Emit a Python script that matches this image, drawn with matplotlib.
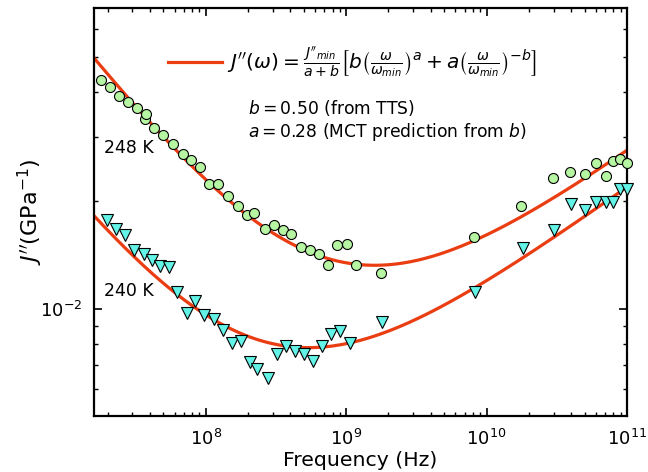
import numpy as np
import matplotlib
matplotlib.use("Agg")
import matplotlib.pyplot as plt

# 248 K data (log10 of frequency in Hz, log10 of J'' in GPa^-1)
logf_248 = [7.253, 7.317, 7.383, 7.448, 7.514, 7.567, 7.578, 7.633, 7.699, 7.768,
            7.835, 7.895, 7.961, 8.025, 8.091, 8.160, 8.232, 8.291, 8.341, 8.422,
            8.483, 8.547, 8.609, 8.681, 8.740, 8.804, 8.871, 8.935, 9.006, 9.073,
            9.247, 9.914, 10.249, 10.475, 10.598, 10.698, 10.778, 10.848, 10.900,
            10.954, 10.998]
logj_248 = [-1.364, -1.384, -1.408, -1.424, -1.440, -1.473, -1.459, -1.498, -1.517, -1.542,
            -1.569, -1.586, -1.606, -1.651, -1.651, -1.686, -1.713, -1.739, -1.734, -1.776,
            -1.767, -1.779, -1.792, -1.827, -1.836, -1.847, -1.876, -1.822, -1.819, -1.878,
            -1.899, -1.799, -1.713, -1.635, -1.620, -1.625, -1.595, -1.630, -1.588,
            -1.583, -1.595]

# 240 K data
logf_240 = [7.300, 7.362, 7.426, 7.490, 7.557, 7.617, 7.676, 7.740, 7.799, 7.866,
            7.925, 7.991, 8.061, 8.125, 8.187, 8.253, 8.314, 8.365, 8.445, 8.507,
            8.574, 8.638, 8.703, 8.764, 8.828, 8.892, 8.955, 9.030, 9.256, 9.921,
            10.258, 10.479, 10.603, 10.700, 10.783, 10.848, 10.902, 10.954, 10.998]
logj_240 = [-1.753, -1.776, -1.794, -1.836, -1.847, -1.864, -1.880, -1.882, -1.952, -2.012,
            -1.977, -2.015, -2.026, -2.058, -2.094, -2.089, -2.147, -2.165, -2.190, -2.125,
            -2.101, -2.116, -2.125, -2.144, -2.103, -2.068, -2.061, -2.095, -2.035, -1.952,
            -1.831, -1.781, -1.708, -1.724, -1.701, -1.703, -1.701, -1.667, -1.665]

# interpolation formula parameters
a_exp, b_exp = 0.28, 0.50
fmin_248, jmin_248 = 1.6e9, 0.01324
fmin_240, jmin_240 = 5.4e8, 7.82e-3

RED = "#ea3d12"
GREEN = "#b6f5a2"
CYAN = "#62f2e6"


def jpp(f, fmin, jmin):
    r = f / fmin
    return jmin / (a_exp + b_exp) * (b_exp * r ** a_exp + a_exp * r ** (-b_exp))


plt.rcParams.update({"font.family": "DejaVu Sans", "mathtext.fontset": "dejavusans"})
fig = plt.figure(figsize=(6.48, 4.72), dpi=100)
ax = fig.add_axes([0.145, 0.1186, 0.8225, 0.8644])

f = np.logspace(7.1, 11.1, 400)
label = (r"$J''(\omega) = \frac{J''_{min}}{a+b}\left[b\left(\frac{\omega}{\omega_{min}}\right)^{a}"
         r" + a\left(\frac{\omega}{\omega_{min}}\right)^{-b}\right]$")
ax.plot(f, jpp(f, fmin_248, jmin_248), color=RED, lw=2.3, zorder=2, label=label)
ax.plot(f, jpp(f, fmin_240, jmin_240), color=RED, lw=2.3, zorder=2)

ax.plot(10 ** np.array(logf_248), 10 ** np.array(logj_248), "o", ms=7.2, mfc=GREEN,
        mec="black", mew=0.8, zorder=3, clip_on=False)
ax.plot(10 ** np.array(logf_240), 10 ** np.array(logj_240), "v", ms=8.5, mfc=CYAN,
        mec="black", mew=0.8, zorder=3, clip_on=False)

ax.set_xscale("log")
ax.set_yscale("log")
ax.set_xlim(1.6e7, 1e11)
ax.set_ylim(5.05e-3, 6.86e-2)

ax.tick_params(which="both", direction="in", top=True, right=True, labelsize=13)
ax.tick_params(which="major", length=6, width=1.2)
ax.tick_params(which="minor", length=3, width=1.0)
ax.tick_params(axis="x", which="both", pad=9)
ax.tick_params(axis="y", which="both", pad=8)
for s in ax.spines.values():
    s.set_linewidth(1.6)

ax.set_xlabel("Frequency (Hz)", fontsize=14.7, labelpad=2)
ax.set_ylabel(r"$J''(\mathrm{GPa}^{-1})$", fontsize=16, labelpad=-3)

ax.legend(loc="center left", bbox_to_anchor=(0.139, 0.868), frameon=False, fontsize=14.5,
          borderpad=0, borderaxespad=0, handlelength=2.7, handletextpad=0.25)

ax.text(0.289, 0.755, r"$b = 0.50$ (from TTS)", transform=ax.transAxes, fontsize=12.3,
        va="center", ha="left")
ax.text(0.289, 0.696, r"$a = 0.28$ (MCT prediction from $b$)", transform=ax.transAxes,
        fontsize=12.3, va="center", ha="left")
ax.text(0.019, 0.657, "248 K", transform=ax.transAxes, fontsize=12.5, va="center", ha="left")
ax.text(0.019, 0.306, "240 K", transform=ax.transAxes, fontsize=12.5, va="center", ha="left")

fig.savefig("out.png", dpi=100)
